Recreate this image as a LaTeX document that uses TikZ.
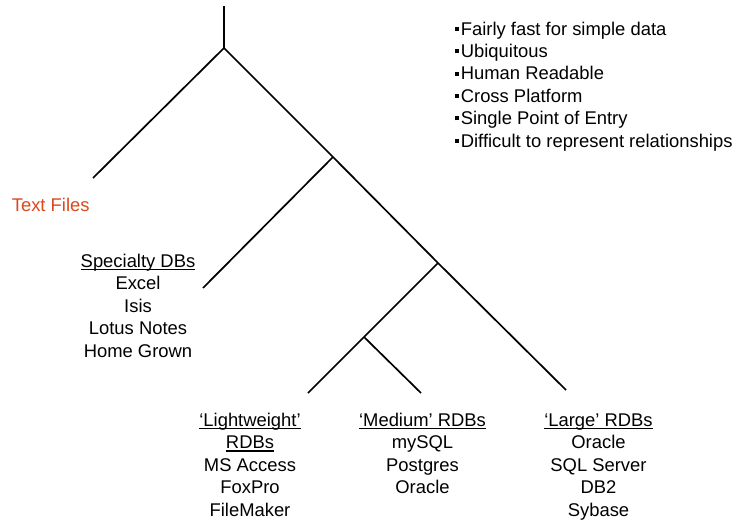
\documentclass[tikz,border=0pt]{standalone}
\usepackage{fontspec}
\setmainfont{Liberation Sans}
\definecolor{tfred}{RGB}{218,72,28}
\newcommand\sqbul{\rule[4.3pt]{4pt}{4pt}\hspace{2pt}}
\newcommand\ulin[1]{\setbox0\hbox{#1}\rlap{\rule[-2.6pt]{\wd0}{1.6pt}}\box0}
\tikzset{lbl/.style={inner sep=0pt, align=center, anchor=base, font=\fontsize{18.4}{22.4}\selectfont}}
\begin{document}
\begin{tikzpicture}[x=1pt,y=-1pt,line width=1.7pt]
\useasboundingbox (0,0) rectangle (737,522);
\coordinate (tid0) at (224,6);
\coordinate (tid1) at (224,48);
\coordinate (tid2) at (93,178);
\coordinate (tid3) at (333,157);
\coordinate (tid4) at (203,288);
\coordinate (tid5) at (438,263);
\coordinate (tid6) at (566,390);
\coordinate (tid7) at (364,337);
\coordinate (tid8) at (308,393);
\coordinate (tid9) at (421,393);
\draw[](tid0) -- (tid1);
\draw[](tid1) -- (tid2);
\draw[](tid1) -- (tid3);
\draw[](tid3) -- (tid4);
\draw[](tid3) -- (tid5);
\draw[](tid5) -- (tid6);
\draw[](tid5) -- (tid7);
\draw[](tid7) -- (tid8);
\draw[](tid7) -- (tid9);
\node[lbl, align=left, anchor=base west] (pros) at (454,147) {\sqbul Fairly fast for simple data\\\sqbul Ubiquitous\\\sqbul Human Readable\\\sqbul Cross Platform\\\sqbul Single Point of Entry\\\sqbul Difficult to represent relationships};
\node[lbl, anchor=base west, text=tfred] (txtfiles) at (11,211.5) {Text Files};
\node[lbl] (specdb) at (138,357.1) {\ulin{Specialty DBs}\\Excel\\Isis\\Lotus Notes\\Home Grown};
\node[lbl] (lightdb) at (250,516.1) {\ulin{‘Lightweight’}\\\ulin{RDBs}\\MS Access\\FoxPro\\FileMaker};
\node[lbl] (meddb) at (422.5,493.7) {\ulin{‘Medium’ RDBs}\\mySQL\\Postgres\\Oracle};
\node[lbl] (largedb) at (598.5,516.1) {\ulin{‘Large’ RDBs}\\Oracle\\SQL Server\\DB2\\Sybase};
\end{tikzpicture}
\end{document}
